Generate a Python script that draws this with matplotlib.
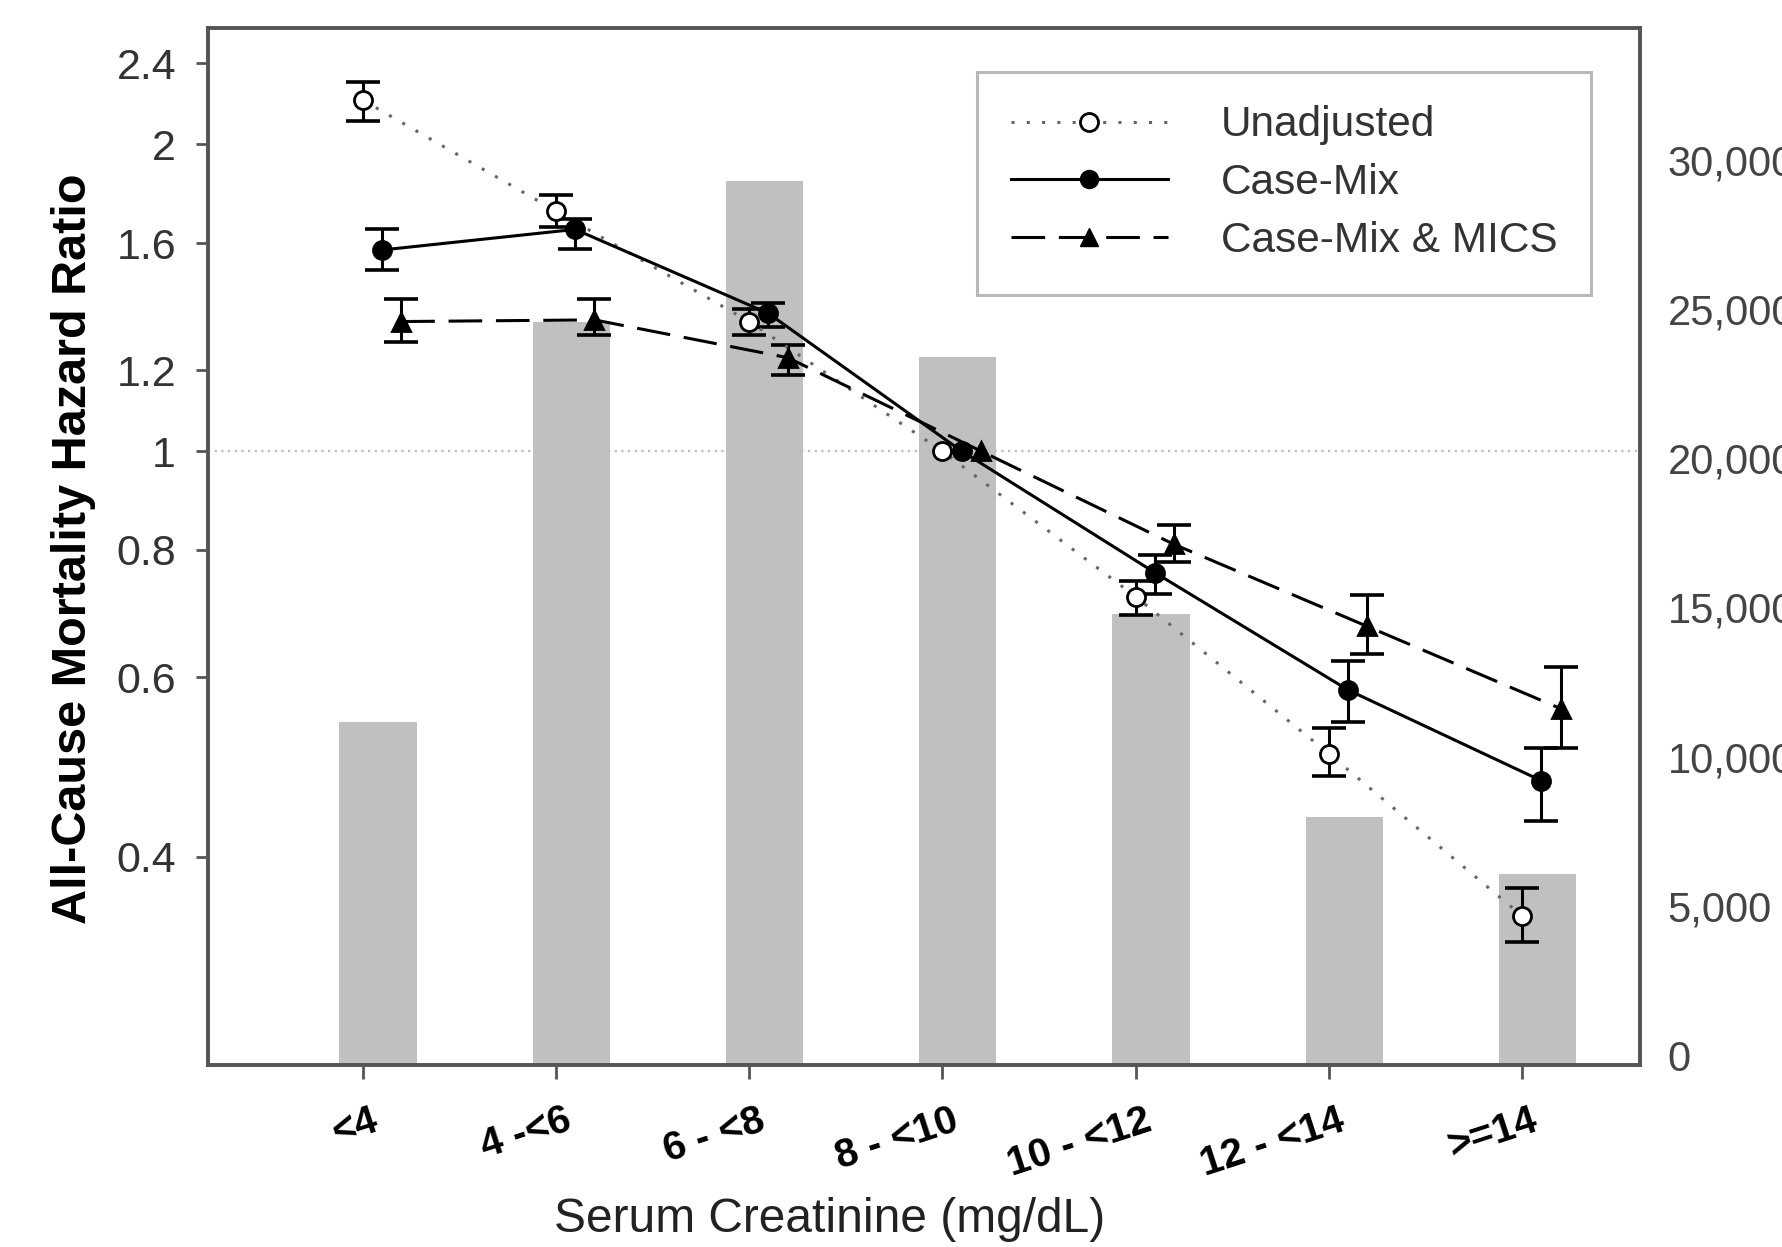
import numpy as np
import matplotlib
matplotlib.use("Agg")
import matplotlib.pyplot as plt
from matplotlib.lines import Line2D
from matplotlib.ticker import FixedLocator, NullLocator, FixedFormatter
import matplotlib.transforms as mtransforms

plt.rcParams['font.family'] = ['Liberation Sans', 'DejaVu Sans']

# ---------------- data ----------------
categories = ["<4", "4 -<6", "6 - <8", "8 - <10", "10 - <12", "12 - <14", ">=14"]
patients = [11500, 24900, 29600, 23700, 15100, 8300, 6400]

unadj = [2.21, 1.72, 1.34, 1.00, 0.72, 0.505, 0.35]
unadj_lo = [2.11, 1.66, 1.30, np.nan, 0.69, 0.48, 0.33]
unadj_hi = [2.30, 1.785, 1.38, np.nan, 0.745, 0.535, 0.373]

casemix = [1.575, 1.65, 1.365, 1.00, 0.76, 0.583, 0.475]
casemix_lo = [1.505, 1.58, 1.325, np.nan, 0.725, 0.542, 0.434]
casemix_hi = [1.65, 1.69, 1.397, np.nan, 0.79, 0.623, 0.512]

mics = [1.34, 1.345, 1.235, 1.00, 0.81, 0.673, 0.559]
mics_lo = [1.28, 1.30, 1.188, np.nan, 0.778, 0.633, 0.512]
mics_hi = [1.41, 1.41, 1.27, np.nan, 0.846, 0.722, 0.614]

yticks_left = [0.4, 0.6, 0.8, 1, 1.2, 1.6, 2, 2.4]
yticklabels_left = ["0.4", "0.6", "0.8", "1", "1.2", "1.6", "2", "2.4"]
yticks_right = [0, 5000, 10000, 15000, 20000, 25000, 30000]
yticklabels_right = ["0", "5,000", "10,000", "15,000", "20,000", "25,000", "30,000"]

# ---------------- figure ----------------
fig = plt.figure(figsize=(17.82, 12.47), dpi=100)
ax = fig.add_axes([0.1167, 0.146, 0.9203 - 0.1167, 0.9775 - 0.146])
ax2 = ax.twinx()
ax.set_zorder(ax2.get_zorder() + 1)
ax.patch.set_visible(False)

x = np.arange(len(categories))

# bars (patient counts) on right axis
ax2.bar(x + 0.08, patients, width=0.4, color='#c0c0c0', edgecolor='none', zorder=1)
ax2.set_ylim(0, 34730)
ax2.yaxis.set_major_locator(FixedLocator(yticks_right))
ax2.yaxis.set_major_formatter(FixedFormatter(yticklabels_right))
ax2.tick_params(axis='y', length=0, pad=20, labelsize=30, labelcolor='#444444')
off = mtransforms.ScaledTranslation(0, 7 / 72, fig.dpi_scale_trans)
for lab in ax2.get_yticklabels():
    lab.set_transform(lab.get_transform() + off)

# reference line at HR = 1
ax.axhline(1.0, color='#bdbdbd', lw=1.6, ls=(0, (1, 2)), zorder=1)

UN_LS = (0, (1, 4))
MX_LS = (0, (11, 4.5))

def draw(series, lo, hi, dx, ls, color, marker, mfc, lw):
    xs = x + dx
    v = np.array(series, dtype=float)
    lo = np.array(lo, dtype=float)
    hi = np.array(hi, dtype=float)
    yerr = np.vstack([v - lo, hi - v])
    ax.errorbar(xs, v, yerr=yerr, fmt='none', ecolor='black', elinewidth=2.2,
                capsize=12, capthick=2.6, zorder=4)
    ax.plot(xs, v, ls=ls, color=color, lw=lw, marker=marker, markersize=13,
            markerfacecolor=mfc, markeredgecolor='black', markeredgewidth=2.0, zorder=5)

draw(unadj, unadj_lo, unadj_hi, 0.0, UN_LS, '#666666', 'o', 'white', 2.2)
draw(casemix, casemix_lo, casemix_hi, 0.1, '-', 'black', 'o', 'black', 2.2)
draw(mics, mics_lo, mics_hi, 0.2, MX_LS, 'black', '^', 'black', 2.2)

ax.set_yscale('log')
ax.set_ylim(0.25, 2.6)
ax.yaxis.set_major_locator(FixedLocator(yticks_left))
ax.yaxis.set_major_formatter(FixedFormatter(yticklabels_left))
ax.yaxis.set_minor_locator(NullLocator())
ax.tick_params(axis='y', which='major', direction='out', length=9, width=2,
               pad=14, labelsize=31, labelcolor='#333333', color='#555555')
ax2.yaxis.set_minor_locator(NullLocator())

ax.set_xlim(-0.8, 6.61)
ax.set_xticks(x)
ax.set_xticklabels(categories, rotation=18, ha='right', va='top',
                   rotation_mode='anchor', fontsize=29, fontweight='bold')
ax.tick_params(axis='x', direction='out', length=10, width=2, pad=16, color='#555555')
offx = mtransforms.ScaledTranslation(6 / 72, 0, fig.dpi_scale_trans)
for lab in ax.get_xticklabels():
    lab.set_transform(lab.get_transform() + offx)

for a in (ax, ax2):
    for s in a.spines.values():
        s.set_color('#555555')
        s.set_linewidth(2.6)

# labels
fig.text(74 / 1782, 0.56, "All-Cause Mortality Hazard Ratio", rotation=90,
         ha='center', va='center', fontsize=35, fontweight='bold')
fig.text(830 / 1782, 0.022, "Serum Creatinine (mg/dL)", ha='center', va='center',
         fontsize=34.5, color='#222222')

# legend
handles = [
    Line2D([], [], ls=UN_LS, color='#666666', lw=2.2, marker='o', markersize=13,
           markerfacecolor='white', markeredgecolor='black', markeredgewidth=2.0),
    Line2D([], [], ls='-', color='black', lw=2.2, marker='o', markersize=13,
           markerfacecolor='black', markeredgecolor='black'),
    Line2D([], [], ls=MX_LS, color='black', lw=2.2, marker='^', markersize=13,
           markerfacecolor='black', markeredgecolor='black'),
]
leg = ax.legend(handles, ["Unadjusted", "Case-Mix", "Case-Mix & MICS"],
                loc='upper right', bbox_to_anchor=(0.966, 0.958), borderaxespad=0,
                fontsize=30.5, frameon=True, fancybox=False, handlelength=3.7,
                handletextpad=1.25, labelspacing=0.42, borderpad=0.8)
leg.get_frame().set_edgecolor('#a8a8a8')
leg.get_frame().set_linewidth(2.2)
for t in leg.get_texts():
    t.set_color('#333333')

fig.savefig("out.png", dpi=100)
